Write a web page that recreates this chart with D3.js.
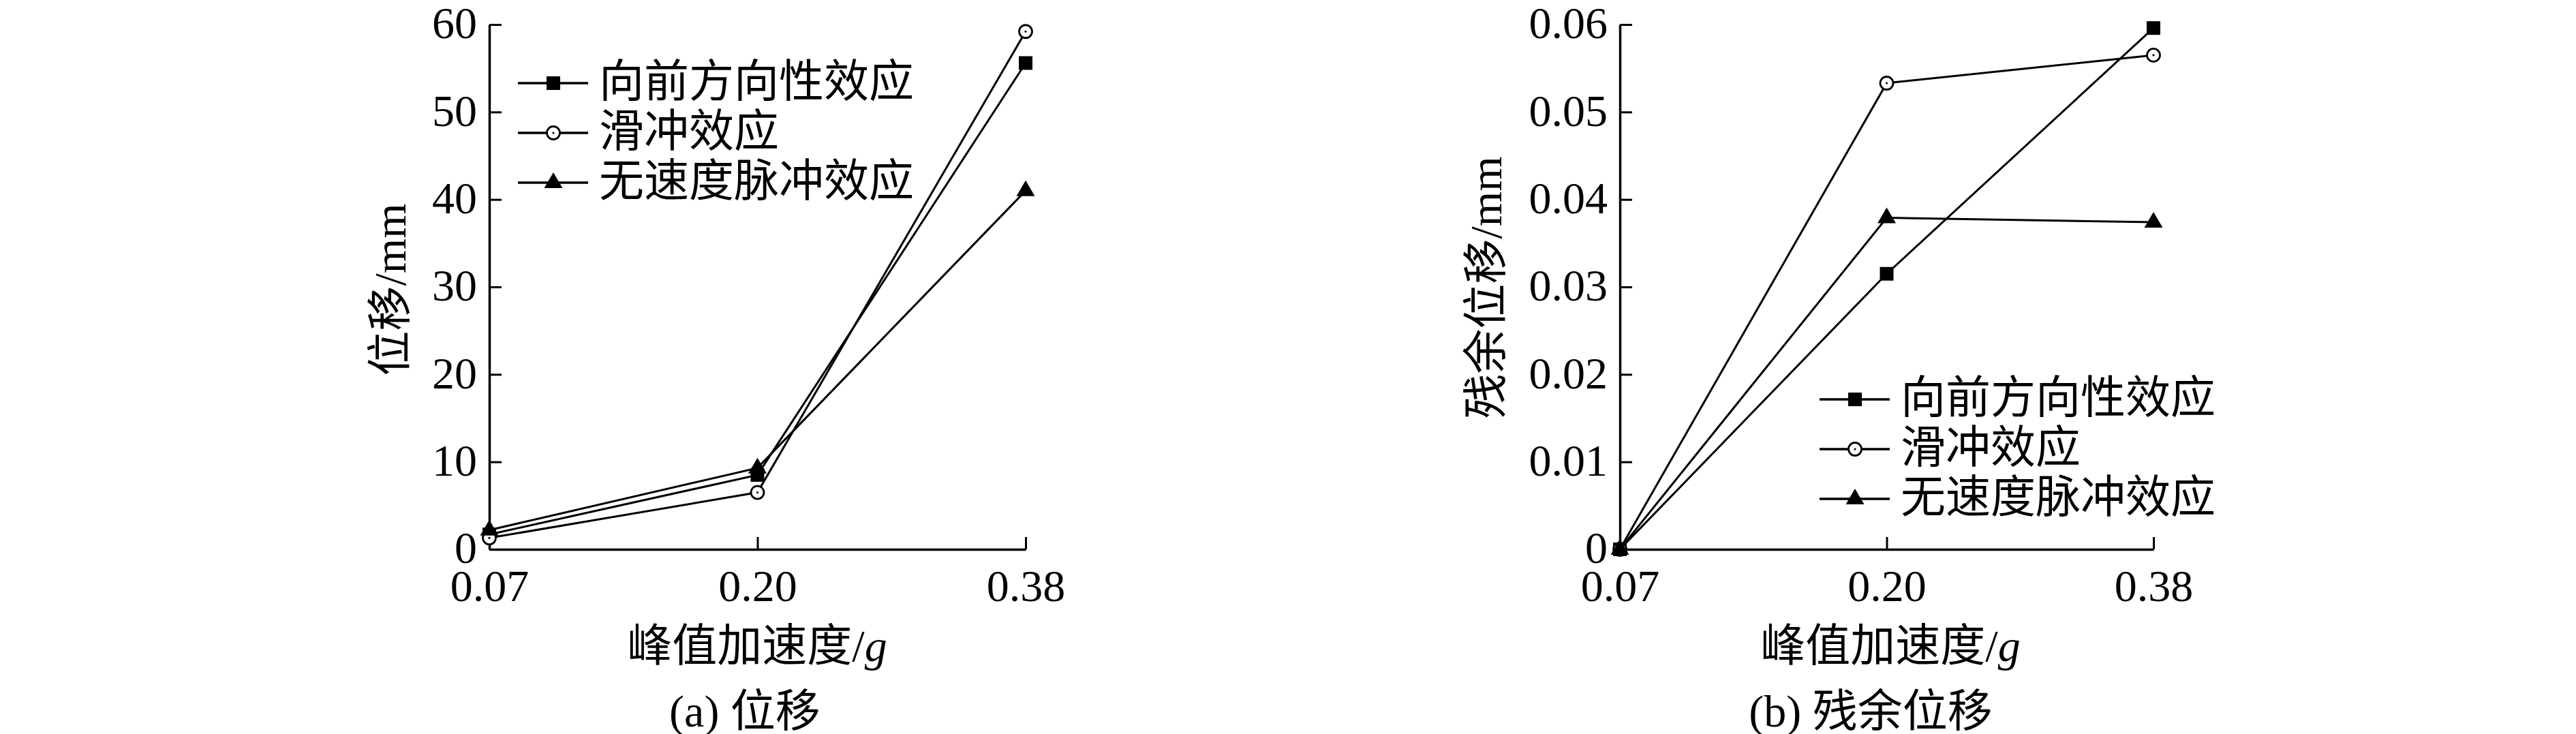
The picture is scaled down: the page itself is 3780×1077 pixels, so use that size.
<!DOCTYPE html>
<html>
<head>
<meta charset="utf-8">
<script src="https://cdn.jsdelivr.net/npm/d3@7"></script>
<style>
	body { margin: 0; background: #fff; }
	svg text { font-family: "Liberation Serif", "Noto Sans CJK SC", serif; fill: #000; }
</style>
</head>
<body>
<svg id="vis"></svg>
<script>
// categories and values
var accelLabels = ["0.07", "0.20", "0.38"];
var seriesNames = ["向前方向性效应", "滑冲效应", "无速度脉冲效应"];
var seriesMarkers = ["square", "circle", "triangle"];

// (a) displacement, mm
var dispForward = [1.7, 8.5, 55.6];
var dispSlip = [1.3, 6.5, 59.2];
var dispNoPulse = [2.2, 9.3, 41.0];
var dispTicks = [0, 10, 20, 30, 40, 50, 60];

// (b) residual displacement, mm
var resForward = [0, 0.0315, 0.0596];
var resSlip = [0, 0.0533, 0.0565];
var resNoPulse = [0, 0.0379, 0.0374];
var resTicks = [0, 0.01, 0.02, 0.03, 0.04, 0.05, 0.06];

var layout = {
	svg: {width: 3780, height: 1077},
	fontSize: 66
};

var panels = [
	{
		left: 718, right: 1505, bottom: 806, top: 36,
		yDomain: [0, 60], yTicks: dispTicks,
		yFormat: function(d) {return String(d)},
		series: [dispForward, dispSlip, dispNoPulse],
		yTitle: "位移/mm", yTitleX: 572, yTitleY: 425,
		xTitleX: 1111, caption: "(a) 位移", captionX: 1093,
		legendX: 760, legendRows: [122, 195, 268]
	},
	{
		left: 2377, right: 3160, bottom: 806, top: 36,
		yDomain: [0, 0.06], yTicks: resTicks,
		yFormat: function(d) {return d === 0 ? "0" : d3.format(".2f")(d)},
		series: [resForward, resSlip, resNoPulse],
		yTitle: "残余位移/mm", yTitleX: 2180, yTitleY: 422,
		xTitleX: 2774, caption: "(b) 残余位移", captionX: 2745,
		legendX: 2670, legendRows: [586, 659, 732]
	}
];

var svg = d3.select("svg#vis")
	.attr("width", layout.svg.width)
	.attr("height", layout.svg.height);

svg.append("rect")
	.attr("width", layout.svg.width)
	.attr("height", layout.svg.height)
	.attr("fill", "#fff");

// marker shapes
function drawMarker(g, type, x, y) {
	if (type === "square") {
		g.append("rect")
			.attr("x", x - 10).attr("y", y - 10)
			.attr("width", 20).attr("height", 20)
			.attr("fill", "#000");
	} else if (type === "circle") {
		g.append("circle")
			.attr("cx", x).attr("cy", y).attr("r", 9.5)
			.attr("fill", "#fff").attr("stroke", "#000").attr("stroke-width", 2.8);
		g.append("circle")
			.attr("cx", x).attr("cy", y).attr("r", 1.6)
			.attr("fill", "#000");
	} else {
		g.append("path")
			.attr("d", "M" + x + "," + (y - 15) + "L" + (x + 13.5) + "," + (y + 8) + "L" + (x - 13.5) + "," + (y + 8) + "Z")
			.attr("fill", "#000");
	}
}

panels.forEach(function(p) {
	var g = svg.append("g");

	var xScale = d3.scalePoint()
		.domain(accelLabels)
		.range([p.left, p.right]);

	var yScale = d3.scaleLinear()
		.domain(p.yDomain)
		.range([p.bottom, p.top]);

	// axes, ticks pointing inward
	var yAxis = g.append("g")
		.attr("transform", "translate(" + p.left + ",0)")
		.call(d3.axisLeft(yScale).tickValues(p.yTicks).tickFormat(p.yFormat)
			.tickSizeInner(-18).tickSizeOuter(0).tickPadding(18));

	var xAxis = g.append("g")
		.attr("transform", "translate(0," + p.bottom + ")")
		.call(d3.axisBottom(xScale).tickSizeInner(-18).tickSizeOuter(0).tickPadding(29));

	[yAxis, xAxis].forEach(function(a) {
		a.select(".domain").attr("stroke", "#000").attr("stroke-width", 3.5);
		a.selectAll(".tick line").attr("stroke", "#000").attr("stroke-width", 3);
		a.selectAll(".tick text")
			.attr("fill", "#000")
			.style("font-family", "'Liberation Serif', serif")
			.style("font-size", layout.fontSize + "px");
	});
	yAxis.selectAll(".tick text").attr("dy", "0.3em");

	// series lines then markers
	p.series.forEach(function(values, i) {
		var line = d3.line()
			.x(function(d, j) {return xScale(accelLabels[j])})
			.y(function(d) {return yScale(d)});

		g.append("path")
			.datum(values)
			.attr("d", line)
			.attr("fill", "none")
			.attr("stroke", "#000")
			.attr("stroke-width", 3);

		values.forEach(function(v, j) {
			drawMarker(g, seriesMarkers[i], xScale(accelLabels[j]), yScale(v));
		});
	});

	// legend
	seriesNames.forEach(function(name, i) {
		var ly = p.legendRows[i];
		g.append("line")
			.attr("x1", p.legendX).attr("x2", p.legendX + 103)
			.attr("y1", ly).attr("y2", ly)
			.attr("stroke", "#000").attr("stroke-width", 3.5);
		drawMarker(g, seriesMarkers[i], p.legendX + 52, ly);
		g.append("text")
			.text(name)
			.attr("x", p.legendX + 119)
			.attr("y", ly)
			.attr("dy", "0.3em")
			.style("font-size", layout.fontSize + "px");
	});

	// axis titles
	g.append("text")
		.text(p.yTitle)
		.attr("transform", "translate(" + p.yTitleX + "," + p.yTitleY + ") rotate(-90)")
		.style("text-anchor", "middle")
		.attr("dominant-baseline", "central")
		.style("font-size", layout.fontSize + "px");

	var xt = g.append("text")
		.attr("x", p.xTitleX)
		.attr("y", 970)
		.style("text-anchor", "middle")
		.style("font-size", layout.fontSize + "px");
	xt.append("tspan").text("峰值加速度/");
	xt.append("tspan").text("g").style("font-style", "italic");

	g.append("text")
		.text(p.caption)
		.attr("x", p.captionX)
		.attr("y", 1066)
		.style("text-anchor", "middle")
		.style("font-size", layout.fontSize + "px");
});
</script>
</body>
</html>
